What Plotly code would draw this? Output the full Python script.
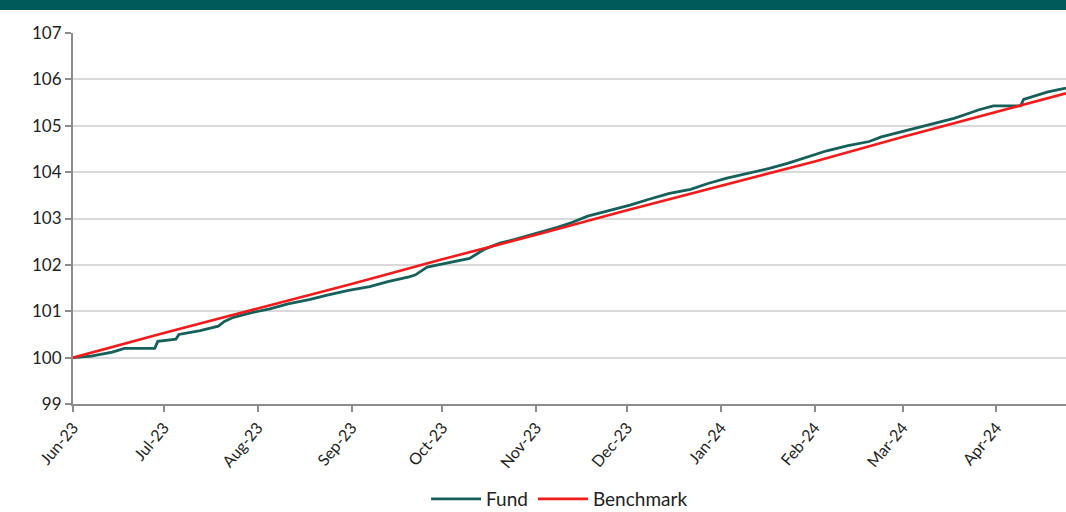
import plotly.graph_objects as go

# ---- data ----
fund_dates = [
    "2023-06-01", "2023-06-07", "2023-06-14", "2023-06-18", "2023-06-28", "2023-06-29",
    "2023-07-05", "2023-07-06", "2023-07-13", "2023-07-19", "2023-07-21", "2023-07-24",
    "2023-07-30", "2023-08-05", "2023-08-11", "2023-08-18", "2023-08-24", "2023-08-31",
    "2023-09-07", "2023-09-13", "2023-09-20", "2023-09-22", "2023-09-26", "2023-10-03",
    "2023-10-10", "2023-10-15", "2023-10-20", "2023-10-25", "2023-11-01", "2023-11-08",
    "2023-11-13", "2023-11-18", "2023-11-25", "2023-12-02", "2023-12-08", "2023-12-15",
    "2023-12-22", "2023-12-28", "2024-01-03", "2024-01-10", "2024-01-17", "2024-01-23",
    "2024-01-30", "2024-02-05", "2024-02-12", "2024-02-19", "2024-02-23", "2024-02-29",
    "2024-03-06", "2024-03-13", "2024-03-18", "2024-03-23", "2024-03-26", "2024-03-31",
    "2024-04-09", "2024-04-10", "2024-04-15", "2024-04-18", "2024-04-24",
]
fund_values = [
    100.00, 100.03, 100.12, 100.20, 100.20, 100.35,
    100.40, 100.50, 100.58, 100.68, 100.78, 100.87,
    100.97, 101.05, 101.16, 101.25, 101.35, 101.45,
    101.53, 101.64, 101.74, 101.78, 101.95, 102.05,
    102.14, 102.34, 102.47, 102.55, 102.68, 102.81,
    102.92, 103.05, 103.17, 103.29, 103.41, 103.54,
    103.63, 103.76, 103.87, 103.97, 104.08, 104.19,
    104.33, 104.46, 104.57, 104.66, 104.76, 104.86,
    104.96, 105.07, 105.16, 105.27, 105.34, 105.43,
    105.43, 105.57, 105.66, 105.73, 105.81,
]

bench_dates = [
    "2023-06-01", "2023-07-01", "2023-08-01", "2023-09-01", "2023-10-01", "2023-11-01",
    "2023-12-01", "2024-01-01", "2024-02-01", "2024-03-01", "2024-04-01", "2024-04-24",
]
bench_values = [
    100.00, 100.53, 101.06, 101.59, 102.12, 102.65,
    103.18, 103.71, 104.23, 104.76, 105.29, 105.70,
]

tick_dates = [
    "2023-06-01", "2023-07-01", "2023-08-01", "2023-09-01", "2023-10-01", "2023-11-01",
    "2023-12-01", "2024-01-01", "2024-02-01", "2024-03-01", "2024-04-01",
]
tick_labels = [
    "Jun-23", "Jul-23", "Aug-23", "Sep-23", "Oct-23", "Nov-23",
    "Dec-23", "Jan-24", "Feb-24", "Mar-24", "Apr-24",
]

FUND_COLOR = "#15605a"
BENCH_COLOR = "#f21b1b"
BAND_COLOR = "#005a5a"
FONT = "Lato"

fig = go.Figure()
fig.add_trace(go.Scatter(x=fund_dates, y=fund_values, mode="lines", name="Fund",
                         line=dict(color=FUND_COLOR, width=2.8)))
fig.add_trace(go.Scatter(x=bench_dates, y=bench_values, mode="lines", name="Benchmark",
                         line=dict(color=BENCH_COLOR, width=2.6)))

W, H = 1066, 512
mt, mb, ml, mr = 33, 108, 73, 0
ph = H - mt - mb

fig.add_shape(type="rect", xref="paper", yref="paper",
              x0=-ml / (W - ml - mr), x1=1.0,
              y0=1 + (mt - 10) / ph, y1=1 + mt / ph,
              fillcolor=BAND_COLOR, line=dict(width=0), layer="above")

fig.update_layout(
    width=W, height=H,
    margin=dict(t=mt, b=mb, l=ml, r=mr, pad=0, autoexpand=False),
    paper_bgcolor="white", plot_bgcolor="white",
    font=dict(family=FONT, size=17, color="#222222"),
    showlegend=True,
    legend=dict(orientation="h", x=0.49, xanchor="center",
                y=(404 - 499) / ph, yanchor="middle",
                font=dict(size=19, color="#222222"), itemwidth=50,
                bgcolor="rgba(0,0,0,0)"),
    xaxis=dict(
        type="date", range=["2023-06-01", "2024-04-24"], automargin=False,
        tickvals=tick_dates, ticktext=tick_labels, tickangle=-50,
        showgrid=False, zeroline=False,
        showline=True, linecolor="#8c8c8c", linewidth=2,
        ticks="outside", ticklen=6, tickcolor="#8c8c8c", tickwidth=2,
        tickfont=dict(size=16, family=FONT, color="#222222"),
    ),
    yaxis=dict(
        range=[99, 107], dtick=1, tick0=99, automargin=False,
        showgrid=True, gridcolor="#d9d9d9", gridwidth=2,
        zeroline=False,
        showline=True, linecolor="#8c8c8c", linewidth=2,
        ticks="outside", ticklen=6, tickcolor="#8c8c8c", tickwidth=2,
        tickfont=dict(size=17, family=FONT, color="#222222"),
    ),
)

fig.write_html(
    "out.html",
    config={"displayModeBar": False},
    post_script="document.body.style.margin='0';document.body.style.padding='0';"
                "document.body.style.overflow='hidden';",
)
